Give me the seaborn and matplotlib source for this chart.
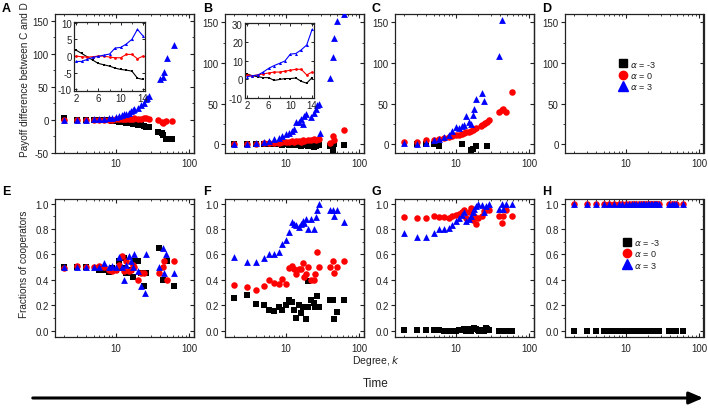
import numpy as np
import matplotlib
matplotlib.use('Agg')
import matplotlib.pyplot as plt
import seaborn as sns
from matplotlib.ticker import LogLocator, NullFormatter, MultipleLocator, FormatStrFormatter, FixedLocator
from matplotlib.lines import Line2D
from matplotlib.patches import FancyArrowPatch

# ---------------- data ----------------
# Panel A (payoff difference)
A_k_black = [2, 3, 4, 5, 6, 7, 8, 9, 10, 11, 12, 13, 14, 15, 16, 17, 18, 20, 22, 24, 26, 28, 38, 42, 44, 48, 59]
A_black = [2, 0, 0, 0, 0, -0.5, -1, -2, -2.5, -3, -4, -4.5, -5, -5.5, -6, -7, -7.5, -8, -9, -10, -11, -12, -19, -21, -23, -29, -30]
A_k_red = [2, 3, 4, 5, 6, 7, 8, 9, 10, 11, 12, 13, 14, 15, 16, 17, 18, 20, 22, 24, 26, 28, 38, 42, 44, 48, 59]
A_red = [0, 0, 0, 0, 0, 0, 0, 0, 0.5, 0.5, 1, 1, 0.5, 1, 1.5, 1, 2, 1.5, 1.5, 2.5, 2, 1.5, -0.5, -3, -5, -2.5, -2.5]
A_k_blue = [2, 3, 4, 5, 6, 7, 8, 9, 10, 11, 12, 13, 14, 15, 16, 17, 18, 20, 22, 24, 26, 27, 28, 40, 44, 46, 50, 61]
A_blue = [0, 0, 0, 0.5, 0.5, 1.5, 2, 3, 4.5, 5.5, 7, 8, 8.5, 10.5, 12.5, 14, 16.5, 18, 21.5, 25.5, 31, 33, 36, 61, 64, 72, 93, 113]

# Panel A inset
IA_k = [2, 3, 4, 5, 6, 7, 8, 9, 10, 11, 12, 13, 14]
IA_black = [1.8, 0.8, -0.2, -1.2, -2.2, -2.6, -3.0, -3.6, -4.0, -4.2, -4.5, -6.6, -7.0]
IA_red = [0, -0.2, -0.3, -0.2, 0, 0, -0.3, -0.5, -0.5, 0.5, 0.5, -0.8, 0]
IA_blue = [-1.6, -1.6, -1.0, -0.4, -0.1, 0.3, 0.6, 2.4, 2.6, 3.6, 5.0, 8.0, 6.0]

# Panel B
B_k_black = [2, 3, 4, 5, 6, 7, 8, 9, 10, 11, 12, 13, 14, 15, 16, 17, 18, 20, 22, 24, 26, 28, 40, 44, 46, 61]
B_black = [0, 0, 0, 0, 0, 0, 0, -0.5, 0, -0.5, -1, 0, -1, -1, -2, -1, -1, -2, -1, -3, -2, -1, -2.5, -6.5, 0.5, -0.5]
B_k_red = [2, 3, 4, 5, 6, 7, 8, 9, 10, 11, 12, 13, 14, 15, 16, 17, 18, 20, 22, 24, 26, 28, 40, 44, 46, 61]
B_red = [1, 1, 1, 1.5, 1.5, 2, 2, 2.5, 3, 3, 4, 3.5, 4, 4.5, 3, 5, 4, 5, 5, 6, 5, 6, 2, 10, 5, 17.5]
B_k_blue = [2, 3, 4, 5, 6, 7, 8, 9, 10, 11, 12, 13, 14, 15, 16, 17, 18, 19, 22, 24, 26, 27, 28, 29, 40, 44, 46, 50, 61]
B_blue = [0, 0.5, 1.5, 3, 4.5, 6.5, 8, 10.5, 12.5, 14.5, 16.5, 18.5, 27, 28, 31, 25.5, 35, 37, 33, 39, 43, 48, 49, 13.5, 82, 107, 130, 151, 160]

# Panel B inset
IB_k = [2, 3, 4, 5, 6, 7, 8, 9, 10, 11, 12, 13, 14]
IB_black = [3, 2, 1.5, 1, 1, -0.5, 0, 0.5, 0.5, 0.8, -1, -2, 1]
IB_red = [2.5, 2, 2.5, 3, 3.5, 4, 4, 4.5, 5, 5.5, 5.5, 2.5, 4]
IB_blue = [1.5, 2, 2.4, 4, 6, 7.5, 8.7, 10, 13.7, 14, 16, 18.6, 27]

# Panel C
C_k_black = [3, 4, 5, 6, 12, 16, 17, 19, 27]
C_black = [0.5, 0.5, 1, -1.5, 0, -7.5, -5.5, -1.5, -1.5]
C_k_red = [2, 3, 4, 5, 6, 7, 8, 9, 10, 11, 12, 13, 14, 15, 16, 17, 18, 19, 22, 23, 24, 25, 27, 28, 39, 42, 44, 48, 59]
C_red = [2.5, 3.5, 5, 5.5, 7, 8, 9.5, 10, 11, 12, 12.7, 13.5, 14.7, 15.5, 16.8, 18, 19, 20, 22, 24, 25, 26.5, 28, 30, 40, 42, 43, 40, 64]
C_k_blue = [2, 3, 4, 5, 6, 7, 8, 9, 10, 11, 12, 13, 14, 15, 16, 17, 18, 19, 23, 24, 39, 43]
C_blue = [1.5, 1, 2, 5, 7, 9, 11, 16, 21, 20, 22.5, 24, 35, 28, 25, 36, 44, 56, 63, 53, 108, 153]

# Panel E (fractions of cooperators)
E_k_black = [2, 3, 4, 6, 7, 8, 9, 10, 11, 12, 13, 14, 15, 16, 17, 18, 20, 22, 24, 26, 39, 44, 50, 61]
E_black = [0.5, 0.5, 0.5, 0.48, 0.48, 0.46, 0.49, 0.48, 0.55, 0.49, 0.57, 0.45, 0.45, 0.48, 0.42, 0.55, 0.55, 0.45, 0.35, 0.45, 0.65, 0.40, 0.55, 0.35]
E_k_red = [2, 3, 4, 5, 6, 7, 8, 9, 10, 11, 12, 13, 14, 15, 16, 17, 18, 20, 22, 24, 39, 44, 45, 50, 61]
E_red = [0.49, 0.51, 0.5, 0.5, 0.51, 0.5, 0.48, 0.47, 0.48, 0.52, 0.59, 0.47, 0.55, 0.47, 0.48, 0.52, 0.5, 0.4, 0.45, 0.45, 0.45, 0.5, 0.55, 0.4, 0.55]
E_k_blue = [2, 3, 4, 5, 6, 7, 8, 9, 10, 11, 12, 13, 14, 15, 16, 17, 18, 20, 22, 25, 26, 39, 44, 45, 49, 61]
E_blue = [0.5, 0.5, 0.5, 0.5, 0.5, 0.53, 0.5, 0.51, 0.5, 0.58, 0.5, 0.4, 0.52, 0.59, 0.55, 0.5, 0.6, 0.47, 0.35, 0.3, 0.6, 0.5, 0.65, 0.45, 0.6, 0.45]

# Panel F
F_k_black = [2, 3, 4, 5, 6, 7, 8, 9, 10, 11, 12, 13, 14, 15, 16, 17, 18, 19, 20, 20, 22, 24, 25, 27, 28, 40, 44, 46, 50, 61]
F_black = [0.255, 0.28, 0.21, 0.2, 0.165, 0.155, 0.185, 0.16, 0.205, 0.24, 0.225, 0.16, 0.1, 0.205, 0.14, 0.19, 0.19, 0.09, 0.19, 0.39, 0.245, 0.22, 0.19, 0.27, 0.19, 0.245, 0.245, 0.09, 0.145, 0.245]
F_k_red = [2, 3, 4, 5, 6, 7, 8, 9, 10, 11, 12, 13, 14, 15, 16, 17, 18, 19, 20, 22, 24, 25, 27, 28, 40, 44, 46, 50, 61]
F_red = [0.36, 0.345, 0.32, 0.35, 0.40, 0.375, 0.365, 0.41, 0.37, 0.49, 0.505, 0.485, 0.445, 0.485, 0.485, 0.53, 0.42, 0.445, 0.5, 0.40, 0.40, 0.445, 0.62, 0.5, 0.5, 0.55, 0.45, 0.5, 0.55]
F_k_blue = [2, 3, 4, 5, 6, 7, 8, 9, 10, 11, 12, 13, 14, 15, 16, 17, 18, 19, 20, 22, 24, 26, 27, 28, 40, 44, 46, 50, 61]
F_blue = [0.58, 0.537, 0.54, 0.574, 0.603, 0.606, 0.62, 0.68, 0.71, 0.775, 0.855, 0.84, 0.83, 0.815, 0.84, 0.86, 0.85, 0.88, 0.80, 0.875, 0.80, 0.895, 0.947, 1.0, 0.95, 0.95, 0.9, 0.95, 0.855]

# Panel G
G_k_black = [2, 3, 4, 5, 6, 7, 8, 9, 10, 11, 12, 13, 14, 15, 16, 17, 18, 19, 20, 21, 22, 23, 24, 25, 26, 27, 28, 39, 42, 44, 46, 48, 59]
G_black = [0.005, 0.005, 0.005, 0.005, 0.005, 0.0, 0.0, 0.0, 0.0, 0.005, 0.005, 0.01, 0.0, 0.01, 0.0, 0.015, 0.02, 0.01, 0.005, 0.0, 0.005, 0.005, 0.0, 0.005, 0.02, 0.01, 0.005, 0.0, 0.0, 0.0, 0.0, 0.0, 0.0]
G_k_rb = [2, 3, 4, 5, 6, 7, 8, 9, 10, 11, 12, 13, 14, 15, 16, 17, 18, 19, 20, 23, 24, 26, 28, 39, 42, 44, 48, 59]
G_red = [0.895, 0.885, 0.885, 0.9, 0.895, 0.895, 0.89, 0.905, 0.91, 0.92, 0.93, 0.95, 0.885, 0.935, 0.965, 0.87, 0.905, 0.84, 0.885, 0.905, 0.945, 0.95, 0.95, 0.905, 0.85, 0.905, 0.95, 0.905]
G_blue = [0.765, 0.74, 0.74, 0.77, 0.8, 0.8, 0.81, 0.835, 0.86, 0.885, 0.91, 0.935, 0.86, 0.875, 0.905, 0.935, 0.955, 0.98, 1.0, 0.985, 0.935, 0.98, 1.0, 0.955, 1.0, 0.955, 1.0, 1.0]

# Panel H
H_k = [2, 3, 4, 5, 6, 7, 8, 9, 10, 11, 12, 13, 14, 15, 16, 17, 18, 19, 20, 21, 22, 23, 24, 25, 26, 27, 28, 39, 42, 45, 48, 60]
H_black = [0.0, 0.0, 0.0, 0.0, 0.0, 0.0, 0.0, 0.0, 0.0, 0.0, 0.0, 0.0, 0.0, 0.0, 0.0, 0.0, 0.0, 0.0, 0.0, 0.0, 0.0, 0.0, 0.0, 0.0, 0.0, 0.0, 0.0, 0.0, 0.0, 0.0, 0.0, 0.0]
H_red = [1.0, 1.0, 1.0, 1.0, 1.0, 1.0, 1.0, 1.0, 1.0, 1.0, 1.0, 1.0, 1.0, 1.0, 1.0, 1.0, 1.0, 1.0, 1.0, 1.0, 1.0, 1.0, 1.0, 1.0, 1.0, 1.0, 1.0, 1.0, 1.0, 1.0, 1.0, 1.0]
H_blue = [1.0, 1.0, 1.0, 1.0, 1.0, 1.0, 1.0, 1.0, 1.0, 1.0, 1.0, 1.0, 1.0, 1.0, 1.0, 1.0, 1.0, 1.0, 1.0, 1.0, 1.0, 1.0, 1.0, 1.0, 1.0, 1.0, 1.0, 1.0, 1.0, 1.0, 1.0, 1.0]

legend_labels = [r'$\alpha$ = -3', r'$\alpha$ = 0', r'$\alpha$ = 3']
panel_letters = ['A', 'B', 'C', 'D', 'E', 'F', 'G', 'H']

# ---------------- style ----------------
sns.set_theme(style='ticks')
plt.rcParams['font.family'] = ['Liberation Sans', 'DejaVu Sans']
plt.rcParams['axes.unicode_minus'] = False
plt.rcParams['axes.linewidth'] = 0.9
plt.rcParams['mathtext.fontset'] = 'dejavusans'

W, H = 708, 410
fig = plt.figure(figsize=(W / 100, H / 100), dpi=100)

col_left = [55, 225, 395, 565]
col_w = 138.5
row_top = [15, 199.5]
row_h = 138.5


def make_ax(col, row):
    l = col_left[col] / W
    b = 1 - (row_top[row] + row_h) / H
    return fig.add_axes([l, b, col_w / W, row_h / H])


def style_main(ax, ylim, yticks, yminor, fmt=None):
    ax.set_xscale('log')
    ax.set_xlim(1.5, 114)
    ax.set_ylim(*ylim)
    ax.set_xticks([10, 100])
    ax.set_xticklabels(['10', '100'])
    ax.xaxis.set_minor_locator(LogLocator(base=10, subs=np.arange(2, 10)))
    ax.xaxis.set_minor_formatter(NullFormatter())
    ax.set_yticks(yticks)
    ax.yaxis.set_minor_locator(MultipleLocator(yminor))
    if fmt:
        ax.yaxis.set_major_formatter(FormatStrFormatter(fmt))
    ax.tick_params(axis='x', which='both', direction='in', top=True, bottom=True,
                   labelsize=7, pad=4, colors='#222222', labelcolor='#222222')
    ax.tick_params(axis='y', which='both', direction='out', left=True, right=False,
                   labelsize=7, pad=1.5, colors='#222222', labelcolor='#222222')
    ax.tick_params(which='major', length=3, width=0.8)
    ax.tick_params(which='minor', length=1.6, width=0.6)
    sec = ax.secondary_yaxis('right')
    sec.set_yticks(yticks)
    sec.yaxis.set_minor_locator(MultipleLocator(yminor))
    sec.tick_params(which='both', direction='in', labelright=False, colors='#222222')
    sec.tick_params(which='major', length=3, width=0.8)
    sec.tick_params(which='minor', length=1.6, width=0.6)
    sec.spines['right'].set_linewidth(0.9)
    for s in ax.spines.values():
        s.set_color('#222222')
    ax.set_xlabel('')
    ax.set_ylabel('')


def scatter3(ax, kb, vb, kr, vr, kt, vt):
    sns.scatterplot(x=kb, y=vb, marker='s', color='black', s=14, linewidth=0, ax=ax, zorder=3)
    sns.scatterplot(x=kr, y=vr, marker='o', color='#ff0000', s=22, linewidth=0, ax=ax, zorder=4)
    sns.scatterplot(x=kt, y=vt, marker='^', color='#0000ff', s=24, linewidth=0, ax=ax, zorder=5)


def inset(rect, k, vb, vr, vt, ylim, yticks):
    x0, y0, x1, y1 = rect
    axi = fig.add_axes([x0 / W, 1 - y1 / H, (x1 - x0) / W, (y1 - y0) / H])
    sns.lineplot(x=k, y=vb, color='black', marker='s', markersize=2, markeredgewidth=0,
                 linewidth=0.8, ax=axi)
    sns.lineplot(x=k, y=vr, color='#ff0000', marker='o', markersize=2, markeredgewidth=0,
                 linewidth=0.8, ax=axi)
    sns.lineplot(x=k, y=vt, color='#0000ff', marker='^', markersize=2.2, markeredgewidth=0,
                 linewidth=0.8, ax=axi)
    axi.set_xlim(1.65, 14.35)
    axi.set_ylim(*ylim)
    axi.set_xticks([2, 6, 10, 14])
    axi.set_yticks(yticks)
    axi.xaxis.set_minor_locator(FixedLocator([4, 8, 12]))
    axi.tick_params(which='both', direction='in', top=True, right=True, labelsize=7, pad=1.5,
                    colors='#222222', labelcolor='#222222')
    axi.tick_params(which='major', length=2.5, width=0.7)
    axi.tick_params(which='minor', length=1.5, width=0.6)
    axi.set_xlabel('')
    axi.set_ylabel('')
    for s in axi.spines.values():
        s.set_linewidth(0.9)
        s.set_color('#222222')
    return axi


# ---------------- top row ----------------
axA = make_ax(0, 0)
scatter3(axA, A_k_black, A_black, A_k_red, A_red, A_k_blue, A_blue)
style_main(axA, (-50, 160), [-50, 0, 50, 100, 150], 25)

axB = make_ax(1, 0)
scatter3(axB, B_k_black, B_black, B_k_red, B_red, B_k_blue, B_blue)
style_main(axB, (-10, 160), [0, 50, 100, 150], 25)

axC = make_ax(2, 0)
scatter3(axC, C_k_black, C_black, C_k_red, C_red, C_k_blue, C_blue)
style_main(axC, (-10, 160), [0, 50, 100, 150], 25)

axD = make_ax(3, 0)
style_main(axD, (-10, 160), [0, 50, 100, 150], 25)

# ---------------- bottom row ----------------
axE = make_ax(0, 1)
scatter3(axE, E_k_black, E_black, E_k_red, E_red, E_k_blue, E_blue)
style_main(axE, (-0.05, 1.04), [0, 0.2, 0.4, 0.6, 0.8, 1.0], 0.1, '%.1f')

axF = make_ax(1, 1)
scatter3(axF, F_k_black, F_black, F_k_red, F_red, F_k_blue, F_blue)
style_main(axF, (-0.05, 1.04), [0, 0.2, 0.4, 0.6, 0.8, 1.0], 0.1, '%.1f')

axG = make_ax(2, 1)
scatter3(axG, G_k_black, G_black, G_k_rb, G_red, G_k_rb, G_blue)
style_main(axG, (-0.05, 1.04), [0, 0.2, 0.4, 0.6, 0.8, 1.0], 0.1, '%.1f')

axH = make_ax(3, 1)
scatter3(axH, H_k, H_black, H_k, H_red, H_k, H_blue)
style_main(axH, (-0.05, 1.04), [0, 0.2, 0.4, 0.6, 0.8, 1.0], 0.1, '%.1f')

# insets
inset((74, 23, 145, 91.5), IA_k, IA_black, IA_red, IA_blue, (-10.3, 10.2), [-10, -5, 0, 5, 10])
inset((245, 24, 314, 99), IB_k, IB_black, IB_red, IB_blue, (-10, 30.5), [-10, 0, 10, 20, 30])

# legends
handles = [Line2D([], [], marker='s', color='black', linestyle='none', markersize=5.5),
           Line2D([], [], marker='o', color='#ff0000', linestyle='none', markersize=6),
           Line2D([], [], marker='^', color='#0000ff', linestyle='none', markersize=6.5)]
for ax, anchor in [(axD, (0.52, 0.56)), (axH, (0.55, 0.605))]:
    leg = ax.legend(handles, legend_labels, loc='center', bbox_to_anchor=anchor, frameon=False,
                    fontsize=6.5, handlelength=1.0, handletextpad=0.3, labelspacing=0.15,
                    borderpad=0)
    for t in leg.get_texts():
        t.set_color('#222222')

# panel letters
letter_x = [2, 203, 371, 542]
letter_y = [9, 192]
for i, L in enumerate(panel_letters):
    fig.text(letter_x[i % 4] / W, 1 - letter_y[i // 4] / H, L, fontsize=9, fontweight='bold',
             ha='left', va='center', color='black')

# axis labels
fig.text(25 / W, 1 - 80 / H, 'Payoff difference between C and D', rotation=90, fontsize=7.2,
         ha='center', va='center', color='#222222')
fig.text(24 / W, 1 - 264 / H, 'Fractions of cooperators', rotation=90, fontsize=7.2,
         ha='center', va='center', color='#222222')
fig.text(376 / W, 1 - 361 / H, 'Degree, $\\mathit{k}$', fontsize=7.5, ha='center', va='center',
         color='#222222')
fig.text(376 / W, 1 - 384 / H, 'Time', fontsize=8.5, ha='center', va='center', color='#222222')

arrow = FancyArrowPatch((30 / W, 1 - 399 / H), (706 / W, 1 - 399 / H), transform=fig.transFigure,
                        arrowstyle='-|>,head_length=0.7,head_width=0.3', mutation_scale=12,
                        lw=2.2, color='black')
fig.add_artist(arrow)

fig.savefig('out.png', dpi=100)
